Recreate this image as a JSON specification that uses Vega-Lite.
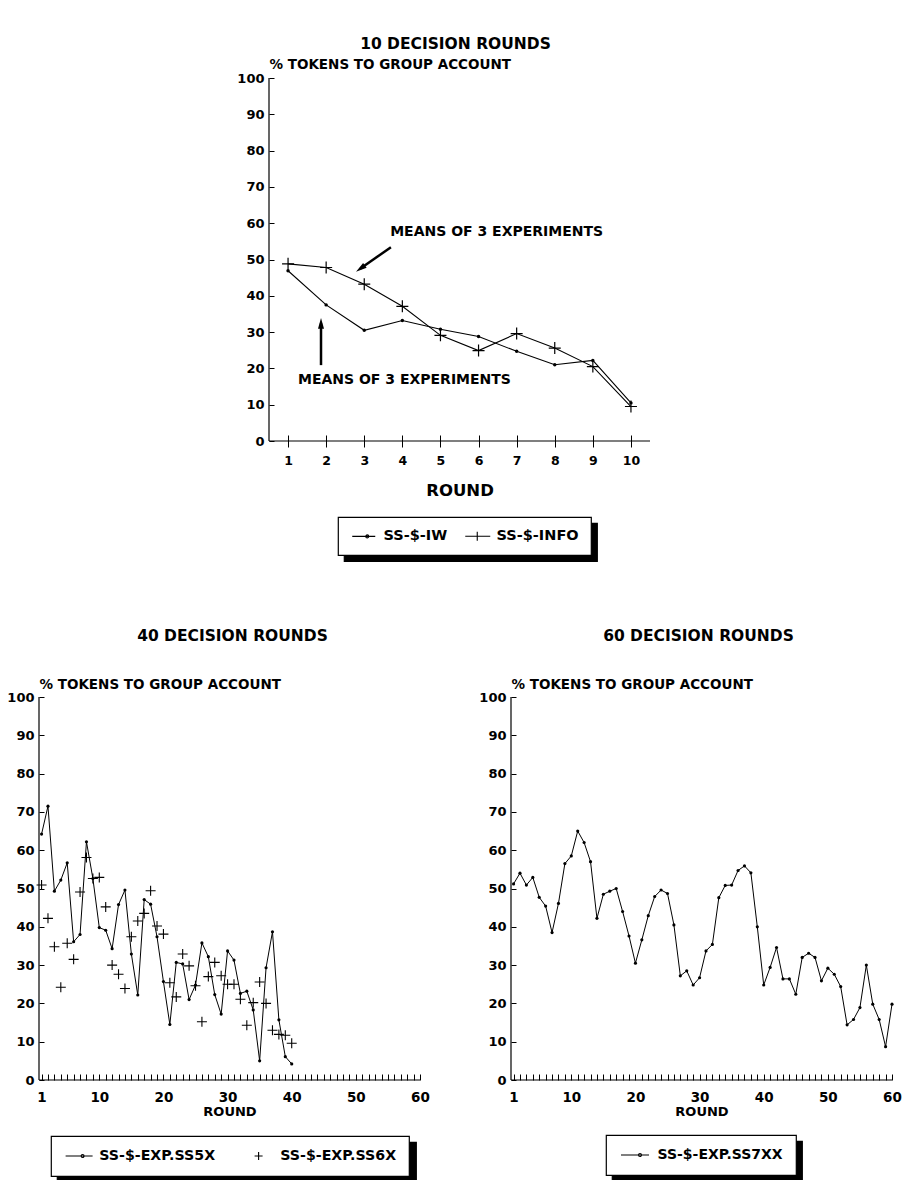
{
  "$schema": "https://vega.github.io/schema/vega-lite/v6.json",
  "background": "white",
  "autosize": {"type": "pad"},
  "padding": {"left": 6, "top": 36, "right": 4, "bottom": 0},
  "config": {
    "font": "DejaVu Sans",
    "view": {"stroke": null},
    "axis": {"grid": false, "domain": false, "format": "d", "labelColor": "black", "labelFont": "DejaVu Sans", "labelFontWeight": "bold", "titleColor": "black", "titleFont": "DejaVu Sans", "titleFontWeight": "bold", "tickColor": "black", "tickWidth": 1, "labelOverlap": false, "labelFlush": false, "labelAngle": 0},
    "title": {"font": "DejaVu Sans", "fontWeight": "bold", "fontSize": 15.5, "color": "black", "anchor": "middle"},
    "legend": {"labelFont": "DejaVu Sans", "labelFontWeight": "bold", "labelColor": "black", "labelLimit": 400, "orient": "none", "direction": "horizontal", "columns": 2, "symbolSize": 100, "symbolStrokeWidth": 1.1, "symbolStrokeColor": "black", "symbolFillColor": "black", "strokeWidth": 1.2}
  },
  "datasets": {
    "ten": [
      {"round": 1, "pct": 46.9, "series": "SS-$-IW"}, {"round": 2, "pct": 37.5, "series": "SS-$-IW"}, {"round": 3, "pct": 30.5, "series": "SS-$-IW"}, {"round": 4, "pct": 33.2, "series": "SS-$-IW"}, {"round": 5, "pct": 30.8, "series": "SS-$-IW"},
      {"round": 6, "pct": 28.8, "series": "SS-$-IW"}, {"round": 7, "pct": 24.7, "series": "SS-$-IW"}, {"round": 8, "pct": 21.0, "series": "SS-$-IW"}, {"round": 9, "pct": 22.2, "series": "SS-$-IW"}, {"round": 10, "pct": 10.5, "series": "SS-$-IW"},
      {"round": 1, "pct": 48.8, "series": "SS-$-INFO"}, {"round": 2, "pct": 47.8, "series": "SS-$-INFO"}, {"round": 3, "pct": 43.2, "series": "SS-$-INFO"}, {"round": 4, "pct": 37.1, "series": "SS-$-INFO"}, {"round": 5, "pct": 29.1, "series": "SS-$-INFO"},
      {"round": 6, "pct": 24.9, "series": "SS-$-INFO"}, {"round": 7, "pct": 29.6, "series": "SS-$-INFO"}, {"round": 8, "pct": 25.6, "series": "SS-$-INFO"}, {"round": 9, "pct": 20.5, "series": "SS-$-INFO"}, {"round": 10, "pct": 9.5, "series": "SS-$-INFO"}
    ],
    "forty": [
      {"round": 1, "pct": 64.2, "series": "SS-$-EXP.SS5X"}, {"round": 2, "pct": 71.5, "series": "SS-$-EXP.SS5X"}, {"round": 3, "pct": 49.3, "series": "SS-$-EXP.SS5X"}, {"round": 4, "pct": 52.2, "series": "SS-$-EXP.SS5X"}, {"round": 5, "pct": 56.7, "series": "SS-$-EXP.SS5X"},
      {"round": 6, "pct": 36.1, "series": "SS-$-EXP.SS5X"}, {"round": 7, "pct": 38.0, "series": "SS-$-EXP.SS5X"}, {"round": 8, "pct": 62.2, "series": "SS-$-EXP.SS5X"}, {"round": 9, "pct": 52.6, "series": "SS-$-EXP.SS5X"}, {"round": 10, "pct": 39.8, "series": "SS-$-EXP.SS5X"},
      {"round": 11, "pct": 39.1, "series": "SS-$-EXP.SS5X"}, {"round": 12, "pct": 34.3, "series": "SS-$-EXP.SS5X"}, {"round": 13, "pct": 45.8, "series": "SS-$-EXP.SS5X"}, {"round": 14, "pct": 49.6, "series": "SS-$-EXP.SS5X"}, {"round": 15, "pct": 32.9, "series": "SS-$-EXP.SS5X"},
      {"round": 16, "pct": 22.2, "series": "SS-$-EXP.SS5X"}, {"round": 17, "pct": 47.1, "series": "SS-$-EXP.SS5X"}, {"round": 18, "pct": 45.9, "series": "SS-$-EXP.SS5X"}, {"round": 19, "pct": 37.4, "series": "SS-$-EXP.SS5X"}, {"round": 20, "pct": 25.7, "series": "SS-$-EXP.SS5X"},
      {"round": 21, "pct": 14.5, "series": "SS-$-EXP.SS5X"}, {"round": 22, "pct": 30.7, "series": "SS-$-EXP.SS5X"}, {"round": 23, "pct": 30.3, "series": "SS-$-EXP.SS5X"}, {"round": 24, "pct": 21.0, "series": "SS-$-EXP.SS5X"}, {"round": 25, "pct": 24.8, "series": "SS-$-EXP.SS5X"},
      {"round": 26, "pct": 35.8, "series": "SS-$-EXP.SS5X"}, {"round": 27, "pct": 32.2, "series": "SS-$-EXP.SS5X"}, {"round": 28, "pct": 22.3, "series": "SS-$-EXP.SS5X"}, {"round": 29, "pct": 17.2, "series": "SS-$-EXP.SS5X"}, {"round": 30, "pct": 33.7, "series": "SS-$-EXP.SS5X"},
      {"round": 31, "pct": 31.3, "series": "SS-$-EXP.SS5X"}, {"round": 32, "pct": 22.6, "series": "SS-$-EXP.SS5X"}, {"round": 33, "pct": 23.2, "series": "SS-$-EXP.SS5X"}, {"round": 34, "pct": 18.3, "series": "SS-$-EXP.SS5X"}, {"round": 35, "pct": 5.0, "series": "SS-$-EXP.SS5X"},
      {"round": 36, "pct": 29.3, "series": "SS-$-EXP.SS5X"}, {"round": 37, "pct": 38.7, "series": "SS-$-EXP.SS5X"}, {"round": 38, "pct": 15.7, "series": "SS-$-EXP.SS5X"}, {"round": 39, "pct": 6.1, "series": "SS-$-EXP.SS5X"}, {"round": 40, "pct": 4.2, "series": "SS-$-EXP.SS5X"},
      {"round": 1, "pct": 50.9, "series": "SS-$-EXP.SS6X"}, {"round": 2, "pct": 42.2, "series": "SS-$-EXP.SS6X"}, {"round": 3, "pct": 34.8, "series": "SS-$-EXP.SS6X"}, {"round": 4, "pct": 24.2, "series": "SS-$-EXP.SS6X"}, {"round": 5, "pct": 35.7, "series": "SS-$-EXP.SS6X"},
      {"round": 6, "pct": 31.5, "series": "SS-$-EXP.SS6X"}, {"round": 7, "pct": 49.1, "series": "SS-$-EXP.SS6X"}, {"round": 8, "pct": 58.1, "series": "SS-$-EXP.SS6X"}, {"round": 9, "pct": 52.6, "series": "SS-$-EXP.SS6X"}, {"round": 10, "pct": 52.9, "series": "SS-$-EXP.SS6X"},
      {"round": 11, "pct": 45.2, "series": "SS-$-EXP.SS6X"}, {"round": 12, "pct": 30.0, "series": "SS-$-EXP.SS6X"}, {"round": 13, "pct": 27.6, "series": "SS-$-EXP.SS6X"}, {"round": 14, "pct": 23.9, "series": "SS-$-EXP.SS6X"}, {"round": 15, "pct": 37.4, "series": "SS-$-EXP.SS6X"},
      {"round": 16, "pct": 41.5, "series": "SS-$-EXP.SS6X"}, {"round": 17, "pct": 43.5, "series": "SS-$-EXP.SS6X"}, {"round": 18, "pct": 49.4, "series": "SS-$-EXP.SS6X"}, {"round": 19, "pct": 40.2, "series": "SS-$-EXP.SS6X"}, {"round": 20, "pct": 38.1, "series": "SS-$-EXP.SS6X"},
      {"round": 21, "pct": 25.4, "series": "SS-$-EXP.SS6X"}, {"round": 22, "pct": 21.7, "series": "SS-$-EXP.SS6X"}, {"round": 23, "pct": 32.9, "series": "SS-$-EXP.SS6X"}, {"round": 24, "pct": 29.8, "series": "SS-$-EXP.SS6X"}, {"round": 25, "pct": 24.6, "series": "SS-$-EXP.SS6X"},
      {"round": 26, "pct": 15.2, "series": "SS-$-EXP.SS6X"}, {"round": 27, "pct": 27.0, "series": "SS-$-EXP.SS6X"}, {"round": 28, "pct": 30.7, "series": "SS-$-EXP.SS6X"}, {"round": 29, "pct": 27.2, "series": "SS-$-EXP.SS6X"}, {"round": 30, "pct": 25.0, "series": "SS-$-EXP.SS6X"},
      {"round": 31, "pct": 25.0, "series": "SS-$-EXP.SS6X"}, {"round": 32, "pct": 21.1, "series": "SS-$-EXP.SS6X"}, {"round": 33, "pct": 14.3, "series": "SS-$-EXP.SS6X"}, {"round": 34, "pct": 20.2, "series": "SS-$-EXP.SS6X"}, {"round": 35, "pct": 25.6, "series": "SS-$-EXP.SS6X"},
      {"round": 36, "pct": 20.0, "series": "SS-$-EXP.SS6X"}, {"round": 37, "pct": 13.0, "series": "SS-$-EXP.SS6X"}, {"round": 38, "pct": 11.9, "series": "SS-$-EXP.SS6X"}, {"round": 39, "pct": 11.7, "series": "SS-$-EXP.SS6X"}, {"round": 40, "pct": 9.6, "series": "SS-$-EXP.SS6X"}
    ],
    "sixty": [
      {"round": 1, "pct": 51.2, "series": "SS-$-EXP.SS7XX"}, {"round": 2, "pct": 54.0, "series": "SS-$-EXP.SS7XX"}, {"round": 3, "pct": 50.9, "series": "SS-$-EXP.SS7XX"}, {"round": 4, "pct": 52.9, "series": "SS-$-EXP.SS7XX"}, {"round": 5, "pct": 47.7, "series": "SS-$-EXP.SS7XX"},
      {"round": 6, "pct": 45.4, "series": "SS-$-EXP.SS7XX"}, {"round": 7, "pct": 38.5, "series": "SS-$-EXP.SS7XX"}, {"round": 8, "pct": 46.1, "series": "SS-$-EXP.SS7XX"}, {"round": 9, "pct": 56.5, "series": "SS-$-EXP.SS7XX"}, {"round": 10, "pct": 58.5, "series": "SS-$-EXP.SS7XX"},
      {"round": 11, "pct": 65.0, "series": "SS-$-EXP.SS7XX"}, {"round": 12, "pct": 62.0, "series": "SS-$-EXP.SS7XX"}, {"round": 13, "pct": 57.0, "series": "SS-$-EXP.SS7XX"}, {"round": 14, "pct": 42.2, "series": "SS-$-EXP.SS7XX"}, {"round": 15, "pct": 48.5, "series": "SS-$-EXP.SS7XX"},
      {"round": 16, "pct": 49.3, "series": "SS-$-EXP.SS7XX"}, {"round": 17, "pct": 50.0, "series": "SS-$-EXP.SS7XX"}, {"round": 18, "pct": 44.0, "series": "SS-$-EXP.SS7XX"}, {"round": 19, "pct": 37.6, "series": "SS-$-EXP.SS7XX"}, {"round": 20, "pct": 30.5, "series": "SS-$-EXP.SS7XX"},
      {"round": 21, "pct": 36.6, "series": "SS-$-EXP.SS7XX"}, {"round": 22, "pct": 42.9, "series": "SS-$-EXP.SS7XX"}, {"round": 23, "pct": 47.9, "series": "SS-$-EXP.SS7XX"}, {"round": 24, "pct": 49.6, "series": "SS-$-EXP.SS7XX"}, {"round": 25, "pct": 48.7, "series": "SS-$-EXP.SS7XX"},
      {"round": 26, "pct": 40.5, "series": "SS-$-EXP.SS7XX"}, {"round": 27, "pct": 27.2, "series": "SS-$-EXP.SS7XX"}, {"round": 28, "pct": 28.5, "series": "SS-$-EXP.SS7XX"}, {"round": 29, "pct": 24.8, "series": "SS-$-EXP.SS7XX"}, {"round": 30, "pct": 26.7, "series": "SS-$-EXP.SS7XX"},
      {"round": 31, "pct": 33.7, "series": "SS-$-EXP.SS7XX"}, {"round": 32, "pct": 35.4, "series": "SS-$-EXP.SS7XX"}, {"round": 33, "pct": 47.6, "series": "SS-$-EXP.SS7XX"}, {"round": 34, "pct": 50.8, "series": "SS-$-EXP.SS7XX"}, {"round": 35, "pct": 50.9, "series": "SS-$-EXP.SS7XX"},
      {"round": 36, "pct": 54.7, "series": "SS-$-EXP.SS7XX"}, {"round": 37, "pct": 55.9, "series": "SS-$-EXP.SS7XX"}, {"round": 38, "pct": 54.1, "series": "SS-$-EXP.SS7XX"}, {"round": 39, "pct": 40.0, "series": "SS-$-EXP.SS7XX"}, {"round": 40, "pct": 24.8, "series": "SS-$-EXP.SS7XX"},
      {"round": 41, "pct": 29.4, "series": "SS-$-EXP.SS7XX"}, {"round": 42, "pct": 34.6, "series": "SS-$-EXP.SS7XX"}, {"round": 43, "pct": 26.4, "series": "SS-$-EXP.SS7XX"}, {"round": 44, "pct": 26.4, "series": "SS-$-EXP.SS7XX"}, {"round": 45, "pct": 22.4, "series": "SS-$-EXP.SS7XX"},
      {"round": 46, "pct": 32.0, "series": "SS-$-EXP.SS7XX"}, {"round": 47, "pct": 33.1, "series": "SS-$-EXP.SS7XX"}, {"round": 48, "pct": 32.0, "series": "SS-$-EXP.SS7XX"}, {"round": 49, "pct": 25.9, "series": "SS-$-EXP.SS7XX"}, {"round": 50, "pct": 29.2, "series": "SS-$-EXP.SS7XX"},
      {"round": 51, "pct": 27.6, "series": "SS-$-EXP.SS7XX"}, {"round": 52, "pct": 24.4, "series": "SS-$-EXP.SS7XX"}, {"round": 53, "pct": 14.4, "series": "SS-$-EXP.SS7XX"}, {"round": 54, "pct": 15.8, "series": "SS-$-EXP.SS7XX"}, {"round": 55, "pct": 18.9, "series": "SS-$-EXP.SS7XX"},
      {"round": 56, "pct": 30.0, "series": "SS-$-EXP.SS7XX"}, {"round": 57, "pct": 19.8, "series": "SS-$-EXP.SS7XX"}, {"round": 58, "pct": 15.8, "series": "SS-$-EXP.SS7XX"}, {"round": 59, "pct": 8.7, "series": "SS-$-EXP.SS7XX"}, {"round": 60, "pct": 19.8, "series": "SS-$-EXP.SS7XX"}
    ]
  },
  "spacing": 66,
  "resolve": {"scale": {"shape": "independent", "color": "independent"}, "legend": {"shape": "independent", "color": "independent"}},
  "vconcat": [
    {
      "spacing": 91,
      "bounds": "flush",
      "resolve": {"scale": {"shape": "independent", "color": "independent"}, "legend": {"shape": "independent", "color": "independent"}},
      "hconcat": [
        {
          "width": 139,
          "height": 363,
          "view": {"fill": "white", "stroke": null},
          "data": {"values": []},
          "mark": "point"
        },
        {
          "width": 381,
          "height": 363,
          "title": {"text": "10 DECISION ROUNDS", "dx": -4, "offset": 5},
          "data": {"name": "ten"},
          "layer": [
            {
              "mark": {"type": "line", "color": "black", "strokeWidth": 1.1},
              "encoding": {
                "x": {"field": "round", "type": "quantitative", "scale": {"domain": [0.5, 10.5], "nice": false, "zero": false},
                  "axis": {"values": [1, 2, 3, 4, 5, 6, 7, 8, 9, 10], "tickCount": 100, "format": "d", "tickSize": 12, "offset": -6, "labelPadding": 7, "labelFontSize": 12.5, "title": "ROUND", "titleFontSize": 16.5, "titleBaseline": "alphabetic", "titleY": 60}},
                "y": {"field": "pct", "type": "quantitative", "scale": {"domain": [0, 100], "nice": false, "zero": false},
                  "axis": {"values": [0, 10, 20, 30, 40, 50, 60, 70, 80, 90, 100], "tickCount": 100, "format": "d", "tickSize": 5, "offset": -5, "labelPadding": 5, "labelFontSize": 13, "title": "% TOKENS TO GROUP ACCOUNT", "titleFontSize": 13.5, "titleAngle": 0, "titleAlign": "left", "titleBaseline": "alphabetic", "titleX": -5, "titleY": -10}},
                "detail": {"field": "series"}
              }
            },
            {
              "transform": [{"filter": "datum.series === 'SS-$-IW'"}],
              "mark": {"type": "point", "shape": "circle", "filled": true, "color": "black", "size": 12, "opacity": 1},
              "encoding": {
                "x": {"field": "round", "type": "quantitative", "scale": {"domain": [0.5, 10.5], "nice": false, "zero": false}},
                "y": {"field": "pct", "type": "quantitative", "scale": {"domain": [0, 100], "nice": false, "zero": false}}
              }
            },
            {
              "transform": [{"filter": "datum.series === 'SS-$-INFO'"}],
              "mark": {"type": "point", "shape": "M-1,0H1M0,-1V1", "filled": false, "color": "black", "size": 144, "strokeWidth": 1.2, "opacity": 1},
              "encoding": {
                "x": {"field": "round", "type": "quantitative", "scale": {"domain": [0.5, 10.5], "nice": false, "zero": false}},
                "y": {"field": "pct", "type": "quantitative", "scale": {"domain": [0, 100], "nice": false, "zero": false}}
              }
            },
            {
              "transform": [{"calculate": "datum.series", "as": "entry"}],
              "mark": {"type": "point", "opacity": 0, "filled": false},
              "encoding": {
                "shape": {"field": "series", "type": "nominal",
                  "scale": {"domain": ["SS-$-IW", "SS-$-INFO"], "range": ["M-1,0H3.6M1.7,0A0.3,0.3 0 1,1 2.3,0A0.3,0.3 0 1,1 1.7,0Z", "M-1,0H4M1.4,-0.9V0.9"]},
                  "legend": {"title": null, "legendX": 69, "legendY": 439, "padding": 12, "columnPadding": 15, "labelOffset": 19, "labelFontSize": 14.5, "symbolOpacity": 1, "fillColor": "white", "strokeColor": "black", "zindex": 2}},
                "color": {"field": "entry", "type": "nominal",
                  "scale": {"range": ["black"]},
                  "legend": {"title": null, "values": ["SS-$-IW"], "legendX": 75, "legendY": 445, "padding": 0, "labelExpr": "''", "labelFontSize": 1, "labelOffset": 0, "symbolOpacity": 0, "symbolStrokeWidth": 0, "symbolType": "square", "symbolSize": 64009, "clipHeight": 38, "fillColor": "black", "strokeColor": "black", "zindex": 1}}
              }
            },
            {
              "data": {"values": [{}]},
              "mark": {"type": "rule", "color": "black", "strokeWidth": 1.2},
              "encoding": {
                "x": {"datum": 0.5, "type": "quantitative", "scale": {"domain": [0.5, 10.5], "nice": false, "zero": false}},
                "x2": {"datum": 10.5},
                "y": {"datum": 0, "type": "quantitative", "scale": {"domain": [0, 100], "nice": false, "zero": false}}
              }
            },
            {
              "data": {"values": [{}]},
              "mark": {"type": "rule", "color": "black", "strokeWidth": 1.2},
              "encoding": {
                "x": {"datum": 0.5, "type": "quantitative", "scale": {"domain": [0.5, 10.5], "nice": false, "zero": false}},
                "y": {"datum": 0, "type": "quantitative", "scale": {"domain": [0, 100], "nice": false, "zero": false}},
                "y2": {"datum": 100}
              }
            },
            {
              "data": {"values": [{}]},
              "mark": {"type": "text", "text": "MEANS OF 3 EXPERIMENTS", "align": "left", "baseline": "middle", "fontSize": 14, "fontWeight": "bold", "font": "DejaVu Sans", "color": "black"},
              "encoding": {
                "x": {"datum": 3.68, "type": "quantitative", "scale": {"domain": [0.5, 10.5], "nice": false, "zero": false}},
                "y": {"datum": 57.7, "type": "quantitative", "scale": {"domain": [0, 100], "nice": false, "zero": false}}
              }
            },
            {
              "data": {"values": [{}]},
              "mark": {"type": "text", "text": "MEANS OF 3 EXPERIMENTS", "align": "left", "baseline": "middle", "fontSize": 14, "fontWeight": "bold", "font": "DejaVu Sans", "color": "black"},
              "encoding": {
                "x": {"datum": 1.26, "type": "quantitative", "scale": {"domain": [0.5, 10.5], "nice": false, "zero": false}},
                "y": {"datum": 16.9, "type": "quantitative", "scale": {"domain": [0, 100], "nice": false, "zero": false}}
              }
            },
            {
              "data": {"values": [{}]},
              "mark": {"type": "rule", "color": "black", "strokeWidth": 2.5},
              "encoding": {
                "x": {"datum": 3.70, "type": "quantitative", "scale": {"domain": [0.5, 10.5], "nice": false, "zero": false}},
                "x2": {"datum": 2.90},
                "y": {"datum": 53.4, "type": "quantitative", "scale": {"domain": [0, 100], "nice": false, "zero": false}},
                "y2": {"datum": 47.5}
              }
            },
            {
              "data": {"values": [{}]},
              "mark": {"type": "point", "shape": "M0,-1L0.55,1L-0.55,1Z", "size": 120, "filled": true, "color": "black", "opacity": 1, "angle": 234},
              "encoding": {
                "x": {"datum": 2.90, "type": "quantitative", "scale": {"domain": [0.5, 10.5], "nice": false, "zero": false}},
                "y": {"datum": 47.5, "type": "quantitative", "scale": {"domain": [0, 100], "nice": false, "zero": false}}
              }
            },
            {
              "data": {"values": [{}]},
              "mark": {"type": "rule", "color": "black", "strokeWidth": 2.5},
              "encoding": {
                "x": {"datum": 1.865, "type": "quantitative", "scale": {"domain": [0.5, 10.5], "nice": false, "zero": false}},
                "y": {"datum": 20.9, "type": "quantitative", "scale": {"domain": [0, 100], "nice": false, "zero": false}},
                "y2": {"datum": 32.4}
              }
            },
            {
              "data": {"values": [{}]},
              "mark": {"type": "point", "shape": "M0,-1L0.55,1L-0.55,1Z", "size": 120, "filled": true, "color": "black", "opacity": 1, "angle": 0},
              "encoding": {
                "x": {"datum": 1.865, "type": "quantitative", "scale": {"domain": [0.5, 10.5], "nice": false, "zero": false}},
                "y": {"datum": 32.4, "type": "quantitative", "scale": {"domain": [0, 100], "nice": false, "zero": false}}
              }
            }
          ]
        }
      ]
    },
    {
      "spacing": 91,
      "bounds": "flush",
      "resolve": {"scale": {"shape": "independent", "color": "independent"}, "legend": {"shape": "independent", "color": "independent"}},
      "hconcat": [
        {
          "width": 381,
          "height": 383,
          "title": {"text": "40 DECISION ROUNDS", "dx": 3, "offset": 33},
          "data": {"name": "forty"},
          "layer": [
            {
              "transform": [{"filter": "datum.series === 'SS-$-EXP.SS5X'"}],
              "mark": {"type": "line", "color": "black", "strokeWidth": 1},
              "encoding": {
                "x": {"field": "round", "type": "quantitative", "scale": {"domain": [0.6, 60], "nice": false, "zero": false},
                  "axis": {"values": [1, 2, 3, 4, 5, 6, 7, 8, 9, 10, 11, 12, 13, 14, 15, 16, 17, 18, 19, 20, 21, 22, 23, 24, 25, 26, 27, 28, 29, 30, 31, 32, 33, 34, 35, 36, 37, 38, 39, 40, 41, 42, 43, 44, 45, 46, 47, 48, 49, 50, 51, 52, 53, 54, 55, 56, 57, 58, 59, 60],
                    "tickCount": 100, "format": "d", "labelExpr": "datum.value == 1 || datum.value % 10 == 0 ? datum.label : ''", "tickSize": 6, "offset": -6, "labelPadding": 10, "labelFontSize": 13.5, "title": "ROUND", "titleFontSize": 13, "titleBaseline": "alphabetic", "titleY": 41}},
                "y": {"field": "pct", "type": "quantitative", "scale": {"domain": [0, 100], "nice": false, "zero": false},
                  "axis": {"values": [0, 10, 20, 30, 40, 50, 60, 70, 80, 90, 100], "tickCount": 100, "format": "d", "tickSize": 5, "offset": -5, "labelPadding": 5, "labelFontSize": 13, "title": "% TOKENS TO GROUP ACCOUNT", "titleFontSize": 13.5, "titleAngle": 0, "titleAlign": "left", "titleBaseline": "alphabetic", "titleX": -5, "titleY": -9}}
              }
            },
            {
              "transform": [{"filter": "datum.series === 'SS-$-EXP.SS5X'"}],
              "mark": {"type": "point", "shape": "circle", "filled": true, "color": "black", "size": 10, "opacity": 1},
              "encoding": {
                "x": {"field": "round", "type": "quantitative", "scale": {"domain": [0.6, 60], "nice": false, "zero": false}},
                "y": {"field": "pct", "type": "quantitative", "scale": {"domain": [0, 100], "nice": false, "zero": false}}
              }
            },
            {
              "transform": [{"filter": "datum.series === 'SS-$-EXP.SS6X'"}],
              "mark": {"type": "point", "shape": "M-1,0H1M0,-1V1", "filled": false, "color": "black", "size": 100, "strokeWidth": 1.1, "opacity": 1},
              "encoding": {
                "x": {"field": "round", "type": "quantitative", "scale": {"domain": [0.6, 60], "nice": false, "zero": false}},
                "y": {"field": "pct", "type": "quantitative", "scale": {"domain": [0, 100], "nice": false, "zero": false}}
              }
            },
            {
              "transform": [{"calculate": "datum.series", "as": "entry"}],
              "mark": {"type": "point", "opacity": 0, "filled": false},
              "encoding": {
                "shape": {"field": "series", "type": "nominal",
                  "scale": {"domain": ["SS-$-EXP.SS5X", "SS-$-EXP.SS6X"], "range": ["M-1,0H4.4M2.1,0A0.3,0.3 0 1,1 2.7,0A0.3,0.3 0 1,1 2.1,0Z", "M-1,0M0.6,0H2.2M1.4,-0.8V0.8"]},
                  "legend": {"title": null, "legendX": 12, "legendY": 439, "padding": 12.5, "columnPadding": 28, "labelOffset": 21.5, "labelFontSize": 14.2, "symbolOpacity": 1, "fillColor": "white", "strokeColor": "black", "zindex": 2}},
                "color": {"field": "entry", "type": "nominal",
                  "scale": {"range": ["black"]},
                  "legend": {"title": null, "values": ["SS-$-EXP.SS5X"], "legendX": 18, "legendY": 445, "padding": 0, "labelExpr": "''", "labelFontSize": 1, "labelOffset": 0, "symbolOpacity": 0, "symbolStrokeWidth": 0, "symbolType": "square", "symbolSize": 128881, "clipHeight": 41, "fillColor": "black", "strokeColor": "black", "zindex": 1}}
              }
            },
            {
              "data": {"values": [{}]},
              "mark": {"type": "rule", "color": "black", "strokeWidth": 1.2},
              "encoding": {
                "x": {"datum": 0.6, "type": "quantitative", "scale": {"domain": [0.6, 60], "nice": false, "zero": false}},
                "x2": {"datum": 60},
                "y": {"datum": 0, "type": "quantitative", "scale": {"domain": [0, 100], "nice": false, "zero": false}}
              }
            },
            {
              "data": {"values": [{}]},
              "mark": {"type": "rule", "color": "black", "strokeWidth": 1.2},
              "encoding": {
                "x": {"datum": 0.6, "type": "quantitative", "scale": {"domain": [0.6, 60], "nice": false, "zero": false}},
                "y": {"datum": 0, "type": "quantitative", "scale": {"domain": [0, 100], "nice": false, "zero": false}},
                "y2": {"datum": 100}
              }
            }
          ]
        },
        {
          "width": 381,
          "height": 383,
          "title": {"text": "60 DECISION ROUNDS", "dx": -3, "offset": 33},
          "data": {"name": "sixty"},
          "layer": [
            {
              "mark": {"type": "line", "color": "black", "strokeWidth": 1},
              "encoding": {
                "x": {"field": "round", "type": "quantitative", "scale": {"domain": [0.6, 60], "nice": false, "zero": false},
                  "axis": {"values": [1, 2, 3, 4, 5, 6, 7, 8, 9, 10, 11, 12, 13, 14, 15, 16, 17, 18, 19, 20, 21, 22, 23, 24, 25, 26, 27, 28, 29, 30, 31, 32, 33, 34, 35, 36, 37, 38, 39, 40, 41, 42, 43, 44, 45, 46, 47, 48, 49, 50, 51, 52, 53, 54, 55, 56, 57, 58, 59, 60],
                    "tickCount": 100, "format": "d", "labelExpr": "datum.value == 1 || datum.value % 10 == 0 ? datum.label : ''", "tickSize": 6, "offset": -6, "labelPadding": 10, "labelFontSize": 13.5, "title": "ROUND", "titleFontSize": 13, "titleBaseline": "alphabetic", "titleY": 41}},
                "y": {"field": "pct", "type": "quantitative", "scale": {"domain": [0, 100], "nice": false, "zero": false},
                  "axis": {"values": [0, 10, 20, 30, 40, 50, 60, 70, 80, 90, 100], "tickCount": 100, "format": "d", "tickSize": 5, "offset": -5, "labelPadding": 5, "labelFontSize": 13, "title": "% TOKENS TO GROUP ACCOUNT", "titleFontSize": 13.5, "titleAngle": 0, "titleAlign": "left", "titleBaseline": "alphabetic", "titleX": -5, "titleY": -9}}
              }
            },
            {
              "mark": {"type": "point", "shape": "circle", "filled": true, "color": "black", "size": 10, "opacity": 1},
              "encoding": {
                "x": {"field": "round", "type": "quantitative", "scale": {"domain": [0.6, 60], "nice": false, "zero": false}},
                "y": {"field": "pct", "type": "quantitative", "scale": {"domain": [0, 100], "nice": false, "zero": false}}
              }
            },
            {
              "transform": [{"calculate": "datum.series", "as": "entry"}],
              "mark": {"type": "point", "opacity": 0, "filled": false},
              "encoding": {
                "shape": {"field": "series", "type": "nominal",
                  "scale": {"domain": ["SS-$-EXP.SS7XX"], "range": ["M-1,0H4.6M2.5,0A0.3,0.3 0 1,1 3.1,0A0.3,0.3 0 1,1 2.5,0Z"]},
                  "legend": {"title": null, "legendX": 95, "legendY": 438, "padding": 13, "labelOffset": 24.5, "labelFontSize": 14, "symbolOpacity": 1, "fillColor": "white", "strokeColor": "black", "zindex": 2}},
                "color": {"field": "entry", "type": "nominal",
                  "scale": {"range": ["black"]},
                  "legend": {"title": null, "legendX": 101, "legendY": 444, "padding": 0, "labelExpr": "''", "labelFontSize": 1, "labelOffset": 0, "symbolOpacity": 0, "symbolStrokeWidth": 0, "symbolType": "square", "symbolSize": 36100, "clipHeight": 41, "fillColor": "black", "strokeColor": "black", "zindex": 1}}
              }
            },
            {
              "data": {"values": [{}]},
              "mark": {"type": "rule", "color": "black", "strokeWidth": 1.2},
              "encoding": {
                "x": {"datum": 0.6, "type": "quantitative", "scale": {"domain": [0.6, 60], "nice": false, "zero": false}},
                "x2": {"datum": 60},
                "y": {"datum": 0, "type": "quantitative", "scale": {"domain": [0, 100], "nice": false, "zero": false}}
              }
            },
            {
              "data": {"values": [{}]},
              "mark": {"type": "rule", "color": "black", "strokeWidth": 1.2},
              "encoding": {
                "x": {"datum": 0.6, "type": "quantitative", "scale": {"domain": [0.6, 60], "nice": false, "zero": false}},
                "y": {"datum": 0, "type": "quantitative", "scale": {"domain": [0, 100], "nice": false, "zero": false}},
                "y2": {"datum": 100}
              }
            }
          ]
        }
      ]
    }
  ]
}
